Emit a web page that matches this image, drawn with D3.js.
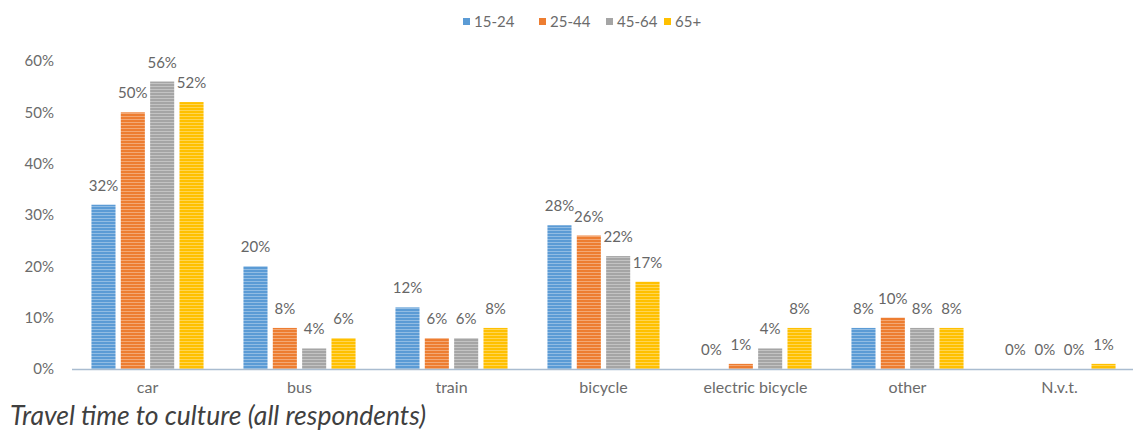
<!DOCTYPE html>
<html>
<head>
<meta charset="utf-8">
<script src="https://cdn.jsdelivr.net/npm/d3@7"></script>
<style>
  html, body { margin: 0; padding: 0; background: #fff; }
  svg { display: block; }
  text { font-family: Lato, "Noto Sans", sans-serif; }
</style>
</head>
<body>
<svg id="chart" width="1133" height="434"></svg>
<script>
// Mode of travel to culture, share of respondents per age group (%)
const categories = ["car", "bus", "train", "bicycle", "electric bicycle", "other", "N.v.t."];
const ageGroups = ["15-24", "25-44", "45-64", "65+"];
const age15to24 = [32, 20, 12, 28, 0, 8, 0];
const age25to44 = [50, 8, 6, 26, 1, 10, 0];
const age45to64 = [56, 4, 6, 22, 4, 8, 0];
const age65plus = [52, 6, 8, 17, 8, 8, 1];
const yTicks = [0, 10, 20, 30, 40, 50, 60];
const title = "Travel time to culture (all respondents)";

const seriesValues = [age15to24, age25to44, age45to64, age65plus];
const colors = ["#5b9bd5", "#ed7d31", "#a5a5a5", "#ffc000"];

const svg = d3.select("#chart");
const plotLeft = 71.5, plotRight = 1135.5, plotTop = 61, plotBottom = 369;

const x0 = d3.scaleBand().domain(categories).range([plotLeft, plotRight]).paddingInner(0).paddingOuter(0);
const x1 = d3.scaleBand().domain(ageGroups).range([0, x0.bandwidth()]).paddingInner(0.18).paddingOuter(0.68);
const y = d3.scaleLinear().domain([0, 60]).range([plotBottom, plotTop]);

// Striped fills for the bars
const defs = svg.append("defs");
colors.forEach((c, i) => {
  const p = defs.append("pattern")
    .attr("id", "stripe" + i)
    .attr("patternUnits", "userSpaceOnUse")
    .attr("width", 6).attr("height", 3);
  p.append("rect").attr("width", 6).attr("height", 3).attr("fill", c);
  p.append("rect").attr("y", 2).attr("width", 6).attr("height", 1).attr("fill", "#fff").attr("opacity", 0.33);
});

// Y axis labels
const yAxis = d3.axisLeft(y).tickValues(yTicks).tickFormat(d => d + "%").tickSize(0).tickPadding(0);
const yg = svg.append("g").attr("transform", `translate(${54},0)`).call(yAxis);
yg.select(".domain").remove();
yg.selectAll("text").attr("fill", "#6b6b6b").style("font-size", "15px").style("font-family", "Lato, sans-serif");

// Bars
const groups = svg.append("g").selectAll("g")
  .data(categories)
  .join("g")
  .attr("transform", d => `translate(${x0(d)},0)`);

groups.each(function(cat, ci) {
  const g = d3.select(this);
  const rows = ageGroups.map((a, si) => ({ age: a, si, v: seriesValues[si][ci] }));
  g.selectAll("rect")
    .data(rows)
    .join("rect")
    .attr("x", d => x1(d.age))
    .attr("width", x1.bandwidth())
    .attr("y", d => y(d.v))
    .attr("height", d => plotBottom - y(d.v))
    .attr("fill", d => `url(#stripe${d.si})`);
  g.selectAll("text.val")
    .data(rows)
    .join("text")
    .attr("class", "val")
    .attr("x", d => x1(d.age) + x1.bandwidth() / 2)
    .attr("y", d => y(d.v) - 14)
    .attr("text-anchor", "middle")
    .attr("fill", "#666")
    .style("font-size", "15px")
    .text(d => d.v + "%");
});

// Category axis
const xAxis = d3.axisBottom(x0).tickSize(0).tickPadding(13);
const xg = svg.append("g").attr("transform", `translate(0,${plotBottom})`).call(xAxis);
xg.select(".domain").attr("stroke", "#a9bcd0").attr("stroke-width", 1.5);
xg.selectAll("text").attr("fill", "#6b6b6b").style("font-size", "16px").style("font-family", "Lato, sans-serif");

// Legend
const legendX = [463, 539, 606, 664];
const legend = svg.append("g");
ageGroups.forEach((a, i) => {
  legend.append("rect").attr("x", legendX[i]).attr("y", 18).attr("width", 7).attr("height", 7).attr("fill", colors[i]);
  legend.append("text").attr("x", legendX[i] + 11).attr("y", 27).attr("fill", "#6b6b6b")
    .style("font-size", "15px").text(a);
});

// Title
svg.append("text")
  .attr("x", 10).attr("y", 425)
  .attr("fill", "#404040")
  .style("font-size", "26.5px")
  .style("font-style", "italic")
  .text(title);
</script>
</body>
</html>
